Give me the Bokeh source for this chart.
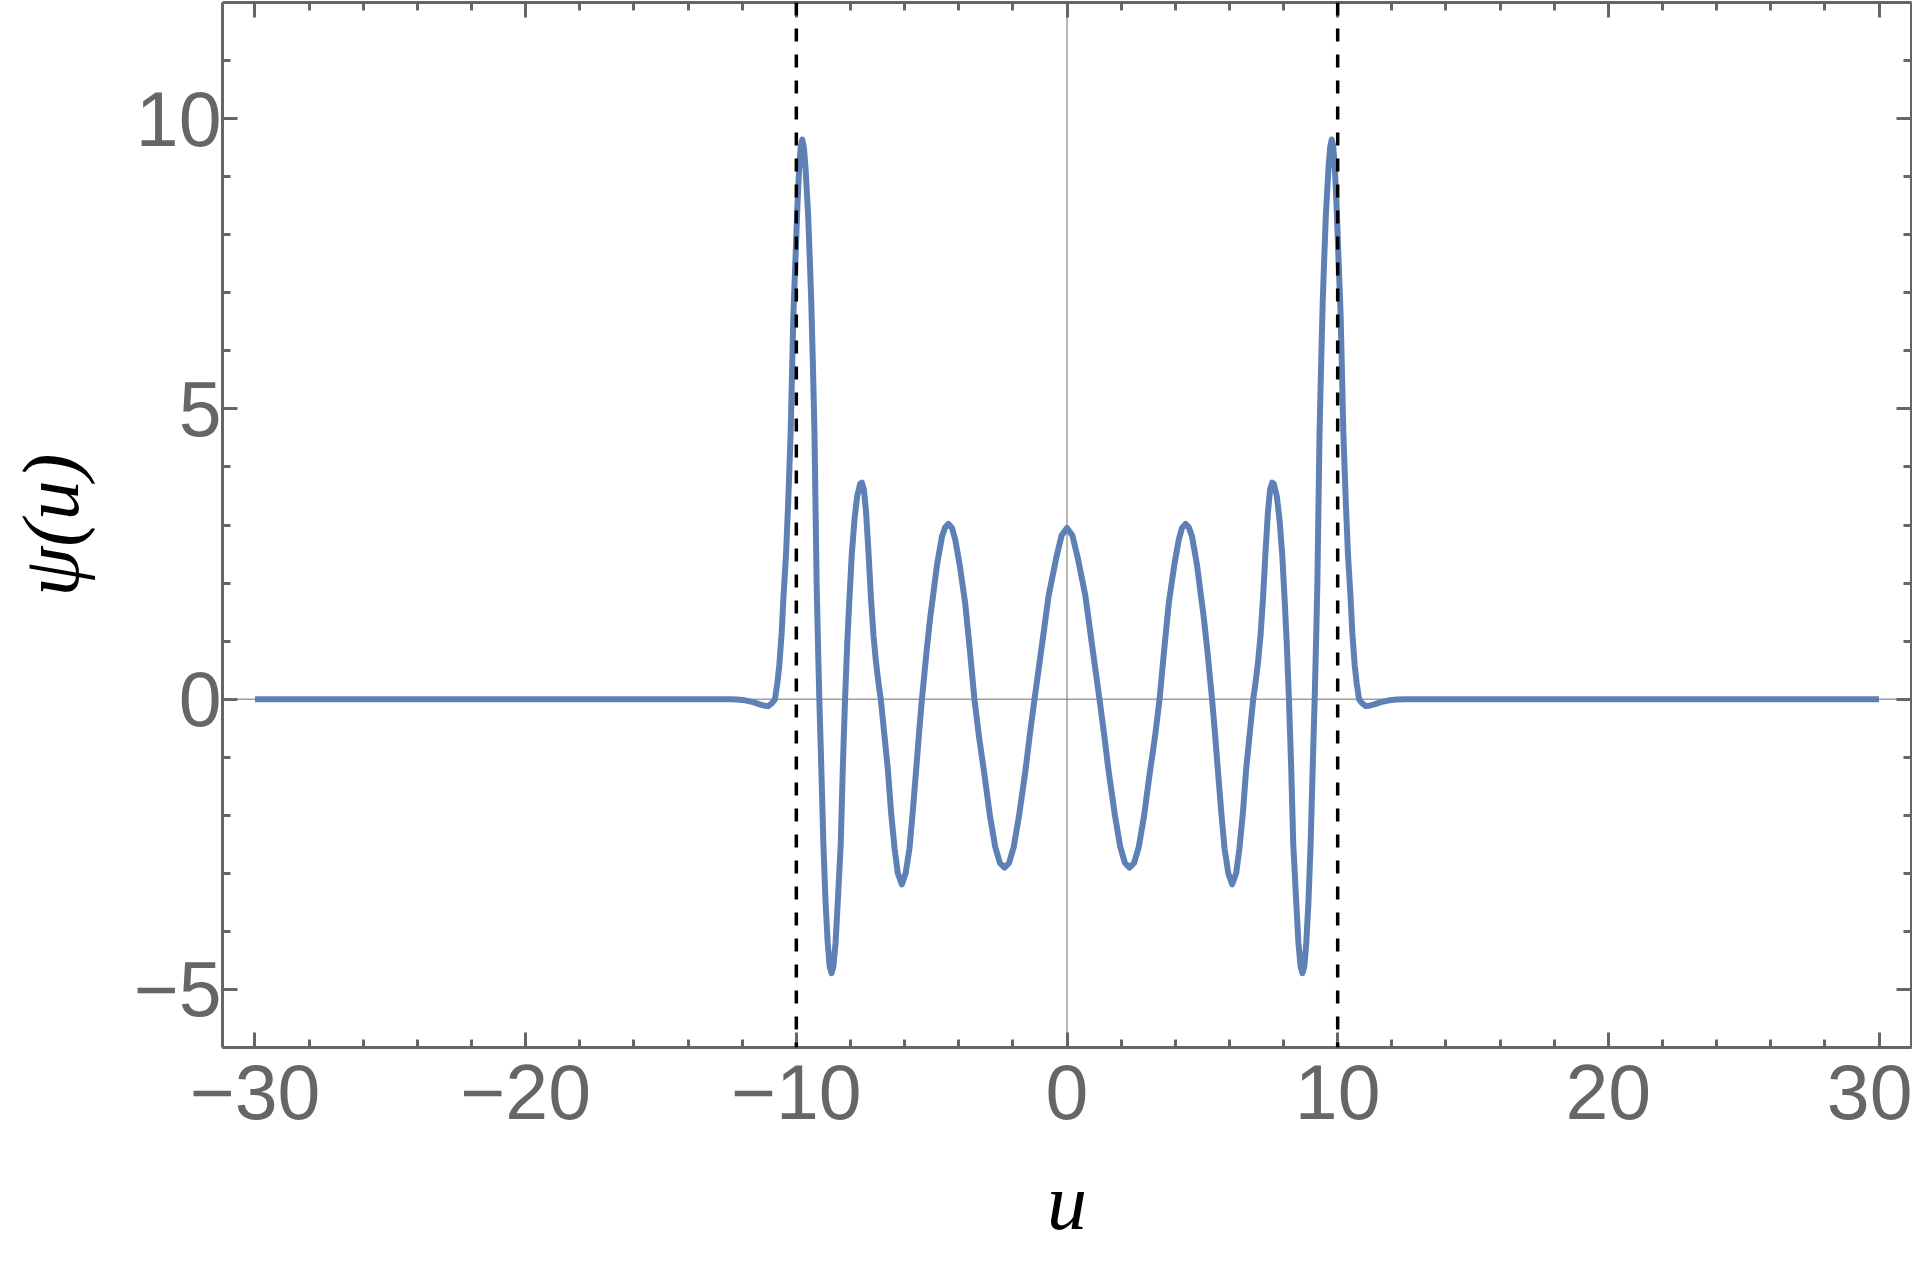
from bokeh.plotting import figure
from bokeh.models import Span, FixedTicker, LinearAxis, Range1d
from bokeh.embed import file_html
from bokeh.resources import INLINE

# ---- data ----
U_LEFT = [-30, -25, -20, -15, -13, -12.5, -12.2, -11.9, -11.6, -11.35, -11.15, -11.04, -10.9, -10.79,
          -10.70, -10.63, -10.54, -10.48, -10.38, -10.30, -10.21, -10.11, -10.03, -9.96, -9.90, -9.84,
          -9.78, -9.72, -9.66, -9.56, -9.50, -9.45, -9.39, -9.33, -9.29, -9.25, -9.20, -9.15, -9.08,
          -9.00, -8.92, -8.84, -8.77, -8.70, -8.63, -8.55, -8.47, -8.36, -8.28, -8.20, -8.12, -8.04,
          -7.95, -7.85, -7.75, -7.64, -7.58, -7.50, -7.42, -7.33, -7.24, -7.15, -7.06, -6.97, -6.88,
          -6.75, -6.62, -6.50, -6.37, -6.25, -6.10, -5.96, -5.82, -5.70, -5.57, -5.46, -5.36, -5.18,
          -5.05, -4.93, -4.80, -4.62, -4.50, -4.38, -4.25, -4.13, -3.96, -3.76, -3.59, -3.42, -3.25,
          -3.05, -2.85, -2.65, -2.48, -2.31, -2.14, -1.97, -1.77, -1.54, -1.37, -1.20, -0.92, -0.68,
          -0.39, -0.20, 0.0]
PSI_LEFT = [0, 0, 0, 0, 0, 0, -0.005, -0.02, -0.05, -0.09, -0.115, -0.12, -0.07, 0.0,
            0.28, 0.58, 1.15, 1.72, 2.5, 3.4, 4.59, 6.6, 7.6, 8.5, 9.1, 9.5,
            9.64, 9.5, 9.15, 8.3, 7.55, 6.88, 5.8, 4.59, 3.3, 2.0, 0.95, 0.0, -1.14,
            -2.5, -3.5, -4.2, -4.6, -4.72, -4.6, -4.2, -3.5, -2.5, -1.14, 0.0, 0.95, 1.72,
            2.5, 3.1, 3.5, 3.71, 3.73, 3.6, 3.2, 2.5, 1.72, 1.1, 0.65, 0.3, 0.0,
            -0.6, -1.2, -1.95, -2.57, -3.0, -3.19, -3.0, -2.57, -1.95, -1.2, -0.55, 0.0, 0.86,
            1.42, 1.85, 2.32, 2.8, 2.96, 3.02, 2.95, 2.75, 2.30, 1.65, 0.85, 0.0, -0.65,
            -1.3, -2.0, -2.55, -2.82, -2.90, -2.82, -2.55, -2.0, -1.25, -0.6, 0.0, 0.95, 1.78,
            2.45, 2.82, 2.95]
U_RIGHT = [0.20, 0.39, 0.68, 0.92, 1.20, 1.37, 1.54, 1.77, 1.97, 2.14, 2.31, 2.48, 2.65, 2.85,
           3.05, 3.25, 3.42, 3.59, 3.76, 3.96, 4.13, 4.25, 4.38, 4.50, 4.62, 4.80, 4.93, 5.05,
           5.18, 5.36, 5.46, 5.57, 5.70, 5.82, 5.96, 6.10, 6.25, 6.37, 6.50, 6.62, 6.75, 6.88,
           6.97, 7.06, 7.15, 7.24, 7.33, 7.42, 7.50, 7.58, 7.64, 7.75, 7.85, 7.95, 8.04, 8.12,
           8.20, 8.28, 8.36, 8.47, 8.55, 8.63, 8.70, 8.77, 8.84, 8.92, 9.00, 9.08, 9.15, 9.20,
           9.25, 9.29, 9.33, 9.39, 9.45, 9.50, 9.56, 9.66, 9.72, 9.78, 9.84, 9.90, 9.96, 10.03,
           10.11, 10.21, 10.30, 10.38, 10.48, 10.54, 10.63, 10.70, 10.79, 10.9, 11.04, 11.15,
           11.35, 11.6, 11.9, 12.2, 12.5, 13, 15, 20, 25, 30]
PSI_RIGHT = [2.82, 2.45, 1.78, 0.95, 0.0, -0.6, -1.25, -2.0, -2.55, -2.82, -2.90, -2.82, -2.55, -2.0,
             -1.3, -0.65, 0.0, 0.85, 1.65, 2.30, 2.75, 2.95, 3.02, 2.96, 2.8, 2.32, 1.85, 1.42,
             0.86, 0.0, -0.55, -1.2, -1.95, -2.57, -3.0, -3.19, -3.0, -2.57, -1.95, -1.2, -0.6, 0.0,
             0.3, 0.65, 1.1, 1.72, 2.5, 3.2, 3.6, 3.73, 3.71, 3.5, 3.1, 2.5, 1.72, 0.95,
             0.0, -1.14, -2.5, -3.5, -4.2, -4.6, -4.72, -4.6, -4.2, -3.5, -2.5, -1.14, 0.0, 0.95,
             2.0, 3.3, 4.59, 5.8, 6.88, 7.55, 8.3, 9.15, 9.5, 9.64, 9.5, 9.1, 8.5, 7.6,
             6.6, 4.59, 3.4, 2.5, 1.72, 1.15, 0.58, 0.28, 0.0, -0.07, -0.12, -0.115,
             -0.09, -0.05, -0.02, -0.005, 0, 0, 0, 0, 0, 0]

BOUNDARIES = [-10, 10]
X_TICKS = [-30, -20, -10, 0, 10, 20, 30]
X_TICK_LABELS = ["\u221230", "\u221220", "\u221210", "0", "10", "20", "30"]
X_MINOR = [-30, -28, -26, -24, -22, -20, -18, -16, -14, -12, -10, -8, -6, -4, -2, 0,
           2, 4, 6, 8, 10, 12, 14, 16, 18, 20, 22, 24, 26, 28, 30]
Y_TICKS = [-5, 0, 5, 10]
Y_TICK_LABELS = ["\u22125", "0", "5", "10"]
Y_MINOR = [-6, -5, -4, -3, -2, -1, 0, 1, 2, 3, 4, 5, 6, 7, 8, 9, 10, 11]
X_LABEL = "u"
Y_LABEL = "\u03c8(u)"

U = U_LEFT + U_RIGHT
PSI = PSI_LEFT + PSI_RIGHT

GRAY = "#666666"
X_LO, X_HI = -31.2, 31.2
Y_LO, Y_HI = -6, 12

p = figure(width=1912, height=1250, output_backend="svg", toolbar_location=None,
           x_range=Range1d(X_LO, X_HI), y_range=Range1d(Y_LO, Y_HI),
           min_border_left=222, min_border_right=1, min_border_top=2, min_border_bottom=203)
p.outline_line_color = None
p.xgrid.visible = False
p.ygrid.visible = False
p.background_fill_color = "white"
p.border_fill_color = "white"

# zero axes
p.add_layout(Span(location=0, dimension="width", line_color="#6e6e6e", line_width=1, level="underlay"))
p.add_layout(Span(location=0, dimension="height", line_color="#6e6e6e", line_width=1, level="underlay"))

p.line(U, PSI, line_color="#5E81B5", line_width=6, line_join="round")

for b in BOUNDARIES:
    p.add_layout(Span(location=b, dimension="height", line_color="black", line_width=3.5,
                      line_dash="13 13"))


def style(ax, ticker, labels, ticks, show):
    ax.ticker = ticker
    ax.axis_line_color = GRAY
    ax.axis_line_width = 3
    ax.major_tick_line_color = GRAY
    ax.major_tick_line_width = 3
    ax.minor_tick_line_color = GRAY
    ax.minor_tick_line_width = 3
    ax.major_tick_in = 15
    ax.major_tick_out = 0
    ax.minor_tick_in = 8
    ax.minor_tick_out = 0
    ax.major_label_text_font = "Liberation Sans"
    ax.major_label_text_font_size = "77px"
    ax.major_label_text_color = GRAY
    if show:
        ax.major_label_overrides = {t: l for t, l in zip(ticks, labels)}
    else:
        ax.major_label_overrides = {t: "" for t in ticks}
        ax.major_label_standoff = 0
        ax.axis_label_standoff = 0
        ax.major_label_text_font_size = "0px"


xa = p.xaxis[0]
ya = p.yaxis[0]
style(xa, FixedTicker(ticks=X_TICKS, minor_ticks=X_MINOR), X_TICK_LABELS, X_TICKS, True)
style(ya, FixedTicker(ticks=Y_TICKS, minor_ticks=Y_MINOR), Y_TICK_LABELS, Y_TICKS, True)
xa.major_label_standoff = 17
ya.major_label_standoff = 1
xa.axis_label = X_LABEL
ya.axis_label = Y_LABEL
for ax in (xa, ya):
    ax.axis_label_text_font = "Liberation Serif"
    ax.axis_label_text_font_style = "italic"
    ax.axis_label_text_font_size = "80px"
    ax.axis_label_text_color = "black"
xa.axis_label_standoff = 36
ya.axis_label_standoff = 36

top = LinearAxis()
right = LinearAxis()
style(top, FixedTicker(ticks=X_TICKS, minor_ticks=X_MINOR), X_TICK_LABELS, X_TICKS, False)
style(right, FixedTicker(ticks=Y_TICKS, minor_ticks=Y_MINOR), Y_TICK_LABELS, Y_TICKS, False)
p.add_layout(top, "above")
p.add_layout(right, "right")

open("out.html", "w").write(file_html(p, INLINE))
